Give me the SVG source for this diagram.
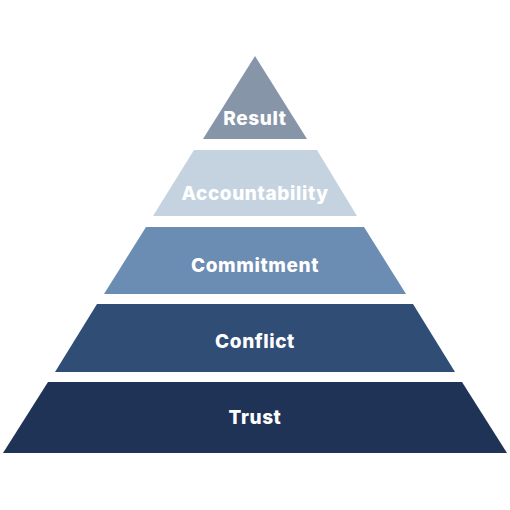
<svg xmlns="http://www.w3.org/2000/svg" width="510" height="510" viewBox="0 0 510 510">
<style>
.lbl{font-family:Inter,"Open Sans","Liberation Sans",sans-serif;font-weight:800;font-size:19px;letter-spacing:0.6px;fill:#ffffff;text-anchor:middle}
</style>
<rect width="510" height="510" fill="#ffffff"/>
<g id="result">
<polygon points="255,56 307,139 203,139" fill="#8795a8"/>
<text class="lbl" x="255" y="125">Result</text>
</g>
<g id="accountability">
<polygon points="194,150 317,150 357,216 153,216" fill="#c5d3e0"/>
<text class="lbl" x="255" y="200">Accountability</text>
</g>
<g id="commitment">
<polygon points="146,227 364,227 406,294 104,294" fill="#6b8cb3"/>
<text class="lbl" x="255" y="272">Commitment</text>
</g>
<g id="conflict">
<polygon points="97,304 413,304 455,372 55,372" fill="#304d76"/>
<text class="lbl" x="255" y="348">Conflict</text>
</g>
<g id="trust">
<polygon points="48,382 462,382 507,453 3,453" fill="#1f3356"/>
<text class="lbl" x="255" y="424">Trust</text>
</g>
<g id="connectors"/>
</svg>
